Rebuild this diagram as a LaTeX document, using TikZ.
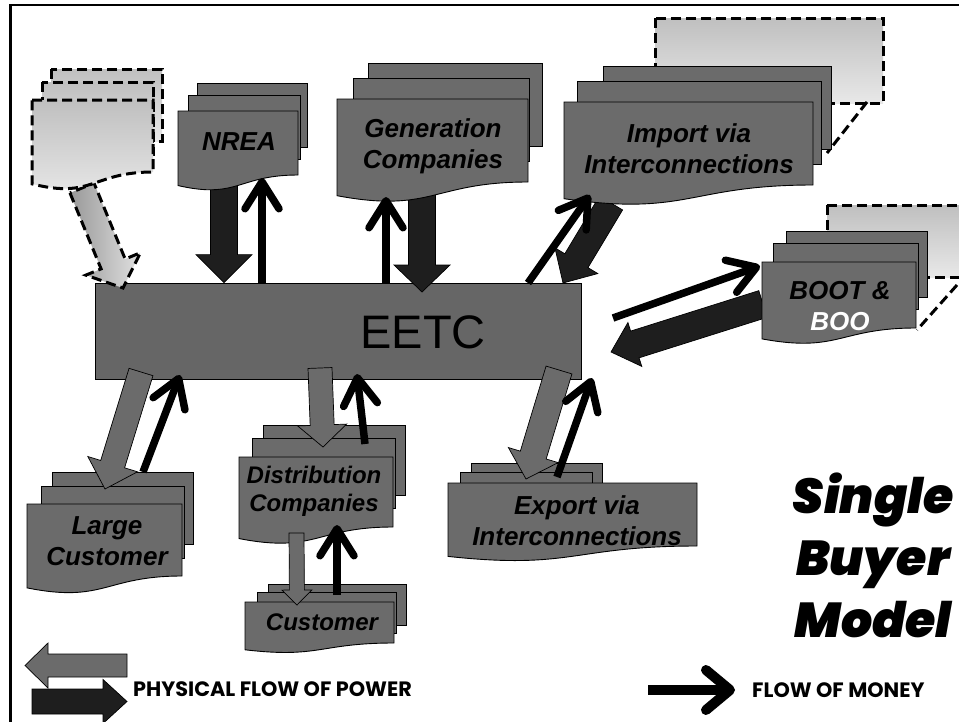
\documentclass[tikz,border=0pt]{standalone}
\usepackage{fontspec}
\setmainfont{Liberation Sans}
\newfontfamily\keyfont{Poppins}
\newfontfamily\titlefont{Poppins Black Italic}
\usetikzlibrary{calc,arrows.meta}
\definecolor{docgray}{HTML}{6B6B6B}
\definecolor{hubgray}{HTML}{666666}
\definecolor{powerdark}{HTML}{1E1E1E}
\colorlet{ghosttop}{black!25}
\colorlet{ghostbottom}{black!9}
\tikzstyle{page} = [draw=black, fill=docgray, line width=0.9pt]
\tikzstyle{ghost} = [draw=black, line width=3pt, dash pattern=on 10pt off 5pt,
    top color=ghosttop, bottom color=ghostbottom]
\tikzstyle{ghostline} = [draw=black, line width=3pt, dash pattern=on 10pt off 5pt]
\tikzstyle{ghostarrow} = [ghostline, left color=black!40, right color=black!12]
\tikzstyle{hub} = [draw=black, fill=hubgray, line width=0.8pt, rectangle, inner sep=0pt]
\tikzstyle{doctext} = [font=\bfseries\itshape\fontsize{26}{31}\selectfont, align=center, inner sep=0pt]
\tikzstyle{smalltext} = [font=\bfseries\itshape\fontsize{24}{28}\selectfont, align=center, inner sep=0pt]
\tikzstyle{keytext} = [font=\keyfont\bfseries\fontsize{20.8}{24}\selectfont, inner sep=0pt]
\tikzstyle{powerin} = [draw=black, fill=powerdark, line width=0.7pt]
\tikzstyle{powerout} = [draw=black, fill=docgray, line width=0.7pt]
\tikzstyle{money} = [line width=7.5pt, -{Straight Barb[length=27pt,width=34pt,round]}]
\tikzstyle{moneybig} = [line width=10pt, -{Straight Barb[length=24pt,width=40pt,round]}]
\newcommand{\docpage}[5][page]{% style, left, top, right, height
  \draw[#1] (#2,#3) rectangle (#4,#3+#5);}
\newcommand{\docfront}[5][page]{% style, left, top, right, height of the right side
  \draw[#1] (#2,#3) -- (#4,#3) -- (#4,#3+#5)
    .. controls ({(#2+#4)/2},#3+#5) and ({(#2+#4)/2},#3+1.38*#5) .. (#2,#3+1.165*#5) -- cycle;}
\newcommand{\fatarrow}[6][powerin]{% style, from, to, body, head, head length
  \path let \p1=(#2), \p2=(#3) in \pgfextra{%
    \pgfmathsetmacro{\arrang}{atan2((\y2)-(\y1),(\x2)-(\x1))}%
    \pgfmathsetmacro{\arrlen}{veclen((\x2)-(\x1),(\y2)-(\y1))}%
    \xdef\arrang{\arrang}\xdef\arrlen{\arrlen}\xdef\arrx{\x1}\xdef\arry{\y1}};
  \draw[#1, shift={(\arrx,\arry)}, rotate=\arrang]
    (0,#4) -- ({\arrlen-#6},#4) -- ({\arrlen-#6},#5) -- (\arrlen,0)
    -- ({\arrlen-#6},-#5) -- ({\arrlen-#6},-#4) -- (0,-#4) -- cycle;}
\begin{document}
\begin{tikzpicture}[x=1pt, y=-1pt]
\useasboundingbox (0,0) rectangle (959,721);
\draw[line width=2.5pt] (10.5,5) rectangle (990,740);

% private producers behind the pages
\path[ghost] (655,18) rectangle (883,103);
\draw[ghostline] (867,102) -- (827,153);
\path[ghost] (827,205) rectangle (985,277);
\draw[ghostline] (957,285) -- (917,330);

\node[hub, minimum width=486pt, minimum height=96pt] (eetc) at (338,331) {};
\node[font=\fontsize{47}{50}\selectfont, inner sep=0pt] (eetc-label) at (423,332) {EETC};

% power into EETC
\fatarrow{224,180}{eetc.north -| 224,0}{13.5}{28}{28}
\fatarrow{422,185}{422,292}{13.5}{28}{27}
\fatarrow{611,203}{563,283}{13.5}{25}{26}
\fatarrow{763,304}{611,352}{14}{23}{25}
\fatarrow[ghostarrow]{82,188}{123,288}{13}{29.5}{26}

% sellers
\docpage[ghost]{51}{69}{162}{72}
\docpage[ghost]{42}{82}{153}{72}
\docfront[ghost]{32}{100}{153}{72}
\docpage{197}{83}{307}{64}
\docpage{188}{95}{300}{64}
\docfront{178}{111}{298}{64}
\node[doctext] (nrea) at (239,142) {NREA};
\docpage{368}{63}{542}{83}
\docpage{353}{78}{529}{83}
\docfront{337}{99}{528}{83}
\node[doctext] (gencos) at (433,146) {Generation\\Companies};
\docpage{603}{66}{831}{83}
\docpage{577}{81}{821}{83}
\docfront{564}{102}{813}{83}
\node[doctext] (import) at (689,149) {Import via\\Interconnections};
\docpage{786}{231}{927}{66}
\docpage{773}{243}{918}{66}
\docfront{762}{262}{916}{66}
\node[doctext] (boot) at (840,306) {BOOT \&\\\textcolor{white}{BOO}};

% buyers
\docpage{52}{472}{193}{72}
\docpage{41}{486}{184}{72}
\docfront{27}{504}{182}{72}
\node[doctext] (large) at (107,541) {Large\\Customer};
\docpage{263}{425}{405}{70}
\docpage{252}{438}{395}{70}
\docfront{239}{457}{393}{70}
\node[smalltext] (discos) at (314,491) {Distribution\\Companies};
\docpage{268}{584}{406}{41}
\docpage{257}{592}{396}{41}
\docfront{245}{602}{394}{41}
\node[smalltext] (customer) at (322,622) {Customer};
\docpage{471}{463}{602}{63}
\docpage{460}{472}{592}{63}
\docfront{448}{483}{697}{63}
\node[doctext] (export) at (577,521) {Export via\\Interconnections};

% power out of EETC
\fatarrow[powerout]{141,372}{105,489}{12.5}{26}{26}
\fatarrow[powerout]{320,368}{323,447}{12}{24.5}{22}
\fatarrow[powerout]{296.5,533}{297,605}{7.5}{15}{15}
\fatarrow[powerout]{559,370}{526,479}{13.5}{26}{25}

% money
\draw[money] (eetc.north -| 262,0) -- (262,178);
\draw[money] (eetc.north -| 386,0) -- (386,197);
\draw[money] (528,283) -- (590,195);
\draw[money] (613,318) -- (760,266);
\draw[money] (143,472) -- (180,375);
\draw[money] (365,444) -- (357,374);
\draw[money] (337,595) -- (337,525);
\draw[money] (557,477) -- (592,378);

% key
\fatarrow[powerout]{127,665.5}{25,665.5}{11.5}{22.5}{23}
\fatarrow{32,701.5}{127,701.5}{12.5}{22}{24}
\node[keytext, anchor=west] (powerkey) at (133,689) {PHYSICAL FLOW OF POWER};
\node[keytext, anchor=west] (moneykey) at (752,690) {FLOW OF MONEY};
\draw[moneybig] ([xshift=-104pt]moneykey.west) -- ([xshift=-17pt]moneykey.west);
\node[font=\titlefont\fontsize{49}{62}\selectfont, align=center, inner sep=0pt]
  (model) at (873,555) {Single\\Buyer\\Model};
\end{tikzpicture}
\end{document}
